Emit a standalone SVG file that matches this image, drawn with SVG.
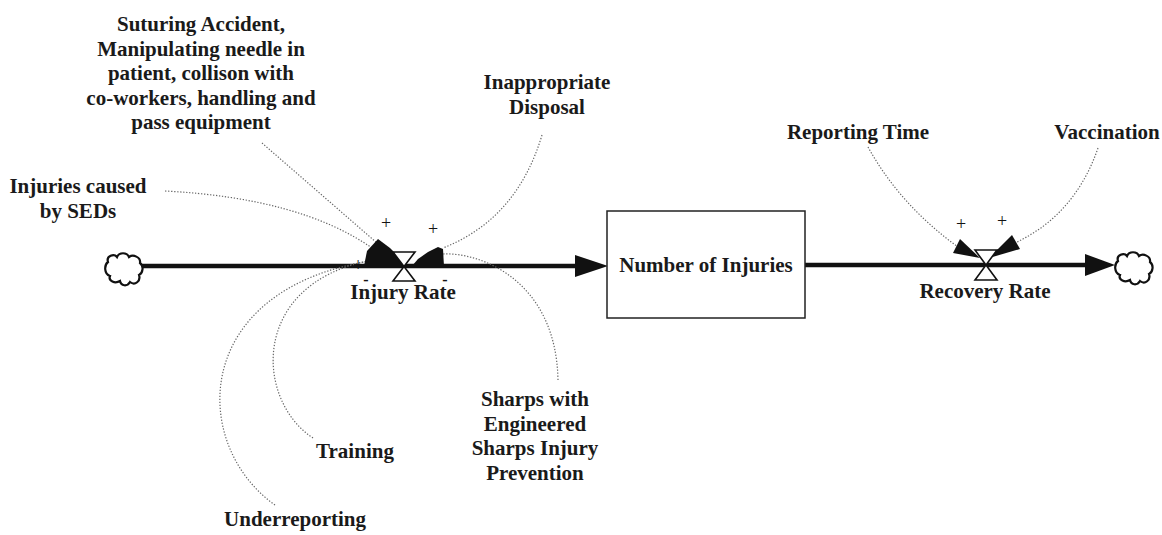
<svg xmlns="http://www.w3.org/2000/svg" width="1162" height="535" viewBox="0 0 1162 535">
  <style>
    .lbl { font-family: "Liberation Serif", "Times New Roman", serif; font-size: 21px; font-weight: bold; fill: #1a1a1a; text-anchor: middle; }
    .pol { font-family: "Liberation Serif", "Times New Roman", serif; font-size: 18px; fill: #111; text-anchor: middle; opacity: 0.99; }
    .neg { font-family: "Liberation Serif", "Times New Roman", serif; font-size: 16px; font-weight: bold; fill: #111; text-anchor: middle; opacity: 0.99; }
    .flow { stroke: #111; stroke-width: 4.5; fill: none; }
    .link { stroke: #666; stroke-width: 1.2; stroke-dasharray: 1.3 1.7; fill: none; }
    .head { fill: #111; stroke: none; }
    .valve { fill: #fff; stroke: #111; stroke-width: 1.6; stroke-linejoin: miter; }
    .cloud { fill: #fff; stroke: #111; stroke-width: 2.2; }
    .stock { fill: #fff; stroke: #222; stroke-width: 1.5; }
  </style>

  <!-- flows, information links, arrowheads and polarity signs -->
  <g id="connectors">
    <!-- material flow: source -> Number of Injuries -> sink -->
    <line class="flow" x1="140" y1="266" x2="578" y2="266"/>
    <polygon class="head" points="575,255 608,266 575,277"/>
    <line class="flow" x1="805" y1="265" x2="1088" y2="265"/>
    <polygon class="head" points="1085,254 1115,265 1085,276"/>

    <!-- links into Injury Rate -->
    <path class="link" d="M262,143 L377,243"/>
    <path class="link" d="M165,191 Q300,198 372,248"/>
    <path class="link" d="M542,135 Q517,219 443,248"/>
    <path class="link" d="M558,380 C556,280 480,252 443,254"/>
    <path class="link" d="M313,438 C255,400 250,285 368,261"/>
    <path class="link" d="M275,505 C190,445 190,290 370,261"/>

    <!-- links into Recovery Rate -->
    <path class="link" d="M868,147 Q900,205 958,247"/>
    <path class="link" d="M1098,148 Q1075,215 1015,243"/>

    <!-- merged arrowheads at Injury Rate -->
    <polygon class="head" points="364,266 367,251 378,239 390,248 400,258 404,266"/>
    <polygon class="head" points="412,266 418,259 428,252 438,247 443,249 444,266"/>

    <!-- arrowheads at Recovery Rate -->
    <polygon class="head" points="953,253 960,239 980,258"/>
    <polygon class="head" points="989,258 1012,235 1020,249"/>

    <!-- polarity signs -->
    <text class="pol" x="386" y="229">+</text>
    <text class="pol" x="433" y="235">+</text>
    <text class="pol" x="358" y="271">+</text>
    <text class="neg" x="366" y="285">-</text>
    <text class="neg" x="445" y="285">-</text>
    <text class="pol" x="961" y="230">+</text>
    <text class="pol" x="1002" y="227">+</text>
  </g>

  <!-- source cloud -->
  <g id="source">
    <path class="cloud" d="M108,262 C106,256 114,253 117,257 C119,252 127,252 129,257 C133,254 141,257 140,263 C144,266 143,273 139,275 C141,281 135,286 130,282 C127,287 121,286 120,281 C115,284 108,281 110,276 C104,274 104,265 108,262 Z"/>
  </g>

  <!-- Injury Rate valve -->
  <g id="injury-rate">
    <path class="valve" d="M393,252 L415,252 L393,281 L415,281 Z"/>
    <text class="lbl" x="403" y="299">Injury Rate</text>
  </g>

  <!-- Number of Injuries stock -->
  <g id="number-of-injuries">
    <rect class="stock" x="607" y="211" width="198" height="107"/>
    <text class="lbl" x="706" y="272">Number of Injuries</text>
  </g>

  <!-- Recovery Rate valve -->
  <g id="recovery-rate">
    <path class="valve" d="M975,250 L997,250 L975,280 L997,280 Z"/>
    <text class="lbl" x="985" y="298">Recovery Rate</text>
  </g>

  <!-- sink cloud -->
  <g id="sink">
    <path class="cloud" transform="translate(1010,-1)" d="M108,262 C106,256 114,253 117,257 C119,252 127,252 129,257 C133,254 141,257 140,263 C144,266 143,273 139,275 C141,281 135,286 130,282 C127,287 121,286 120,281 C115,284 108,281 110,276 C104,274 104,265 108,262 Z"/>
  </g>

  <!-- auxiliary variables -->
  <g id="suturing-accident">
    <text class="lbl" x="201" y="31">Suturing Accident,</text>
    <text class="lbl" x="201" y="55.5">Manipulating needle in</text>
    <text class="lbl" x="201" y="80">patient, collison with</text>
    <text class="lbl" x="201" y="104.5">co-workers, handling and</text>
    <text class="lbl" x="201" y="129">pass equipment</text>
  </g>
  <g id="injuries-caused-by-seds">
    <text class="lbl" x="78" y="193">Injuries caused</text>
    <text class="lbl" x="78" y="217.5">by SEDs</text>
  </g>
  <g id="inappropriate-disposal">
    <text class="lbl" x="547" y="89">Inappropriate</text>
    <text class="lbl" x="547" y="113.5">Disposal</text>
  </g>
  <g id="sharps-injury-prevention">
    <text class="lbl" x="535" y="406">Sharps with</text>
    <text class="lbl" x="535" y="430.5">Engineered</text>
    <text class="lbl" x="535" y="455">Sharps Injury</text>
    <text class="lbl" x="535" y="479.5">Prevention</text>
  </g>
  <g id="training">
    <text class="lbl" x="355" y="458">Training</text>
  </g>
  <g id="underreporting">
    <text class="lbl" x="295" y="526">Underreporting</text>
  </g>
  <g id="reporting-time">
    <text class="lbl" x="858" y="139">Reporting Time</text>
  </g>
  <g id="vaccination">
    <text class="lbl" x="1107" y="139">Vaccination</text>
  </g>
</svg>
